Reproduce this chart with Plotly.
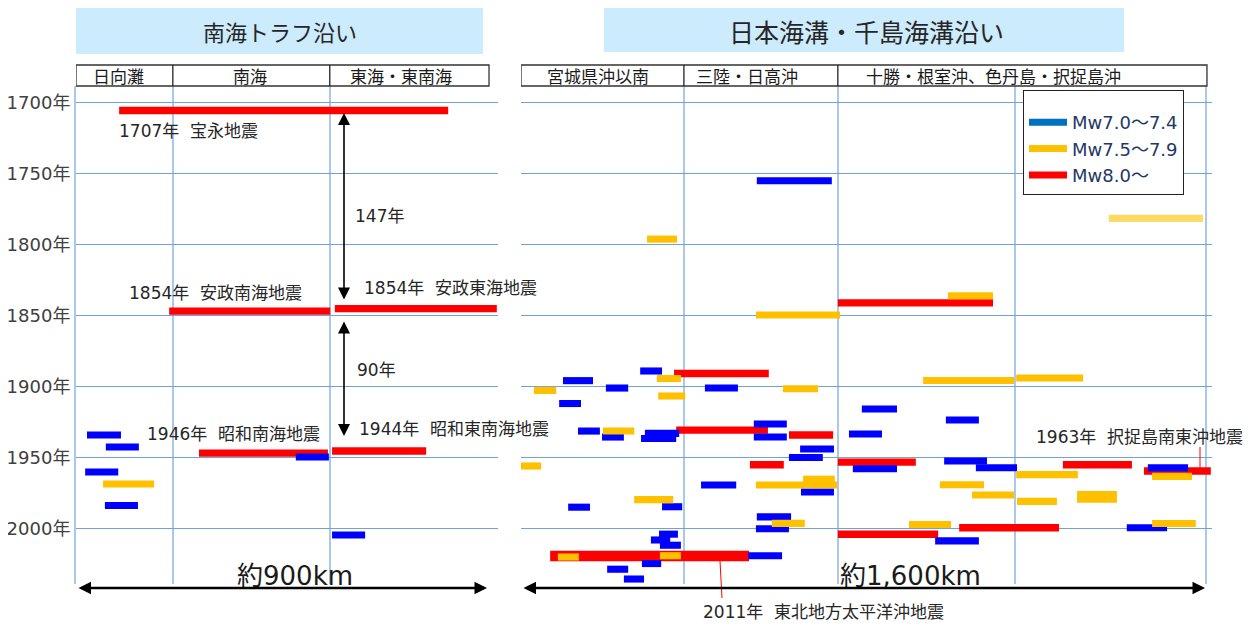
import plotly.graph_objects as go

# page is drawn with an 8px body margin; figure sized to fill the window
OFF = 8
W, H = 1249, 618
FONT = "Noto Sans CJK JP"
LATIN = "DejaVu Sans, Noto Sans CJK JP"

# ---------------- data ----------------
YEAR_TICKS = [1700, 1750, 1800, 1850, 1900, 1950, 2000]
YEAR_LABELS = ["1700年", "1750年", "1800年", "1850年", "1900年", "1950年", "2000年"]

LEFT_REGIONS = ["日向灘", "南海", "東海・東南海"]
LEFT_BOUNDS_KM = [0, 211, 553, 900]
RIGHT_REGIONS = ["宮城県沖以南", "三陸・日高沖", "十勝・根室沖、色丹島・択捉島沖"]
RIGHT_BOUNDS_KM = [0, 380, 739, 1600]
RIGHT_GRID_KM = [380, 739, 1152, 1597]

# Nankai Trough panel (start km, end km, year)
L_RED_START = [94, 203, 564, 268, 558]
L_RED_END = [811, 554, 917, 549, 763]
L_RED_YEAR = [1705.6, 1846.8, 1845.1, 1946.8, 1945.3]

L_BLUE_START = [24, 65, 479, 20, 63, 558]
L_BLUE_END = [98, 137, 551, 92, 135, 630]
L_BLUE_YEAR = [1934.1, 1942.5, 1949.6, 1960.1, 1983.7, 2004.5]

L_ORANGE_START = [59]
L_ORANGE_END = [170]
L_ORANGE_YEAR = [1968.6]

# Japan / Kuril Trench panel
R_BLUE_START = [550, 278, 98, 198, 429, 89, 795, 991, 543, 133, 289, 280, 189, 543, 765, 651, 625, 774,
                987, 1061, 1462, 420, 653, 110, 329, 550, 548, 322, 303, 324, 530, 282, 201, 240, 966, 1413]
R_BLUE_END = [725, 329, 168, 250, 506, 140, 877, 1068, 620, 184, 369, 362, 240, 620, 842, 730, 704, 877,
              1087, 1157, 1556, 502, 730, 161, 376, 630, 625, 366, 348, 373, 609, 327, 250, 287, 1068, 1507]
R_BLUE_YEAR = [1755.0, 1889.0, 1895.8, 1901.0, 1901.0, 1911.9, 1915.8, 1923.5, 1926.3, 1931.3, 1932.9,
               1936.5, 1935.5, 1935.5, 1933.4, 1943.9, 1949.9, 1957.8, 1952.4, 1957.1, 1957.2, 1969.3,
               1974.2, 1984.9, 1984.6, 1991.7, 2000.1, 2003.9, 2008.0, 2011.7, 2019.1, 2024.6, 2028.6,
               2035.5, 2008.6, 1999.4]

R_ORANGE_START = [294, 548, 996, 938, 1155, 317, 30, 611, 320, 191, 0, 548, 658, 264, 977, 1155, 1052,
                  1157, 1297, 1472, 585, 905, 1472, 86, 324]
R_ORANGE_END = [364, 744, 1101, 1150, 1311, 373, 82, 693, 383, 264, 47, 737, 732, 355, 1080, 1299, 1150,
                1250, 1390, 1565, 662, 1003, 1574, 135, 373]
R_ORANGE_YEAR = [1796.1, 1849.6, 1836.0, 1895.7, 1893.9, 1894.3, 1902.7, 1901.5, 1906.6, 1931.3, 1955.9,
                 1969.3, 1965.4, 1979.6, 1969.1, 1962.0, 1976.3, 1980.8, 1977.6, 1963.2, 1996.3, 1997.1,
                 1996.4, 2020.0, 2019.1]

R_PALE_START = [1371]
R_PALE_END = [1591]
R_PALE_YEAR = [1781.5]

R_RED_START = [739, 357, 362, 625, 534, 739, 1264, 1453, 1022, 739, 68]
R_RED_END = [1101, 578, 576, 728, 613, 921, 1425, 1609, 1255, 973, 532]
R_RED_YEAR = [1841.0, 1890.8, 1930.6, 1934.1, 1955.0, 1953.2, 1955.0, 1959.4, 1999.4, 2004.0, 2019.3]

LEGEND_NAMES = ["Mw7.0～7.4", "Mw7.5～7.9", "Mw8.0～"]

# ---------------- styles ----------------
BLUE = "#0000FF"
ORANGE = "#FFC000"
RED = "#FF0000"
PALE = "#FFD966"
LEG_BLUE = "#0070C0"
BAR_T = 5.0          # bar thickness in years
RED_T = 5.2
R_RED_THICK = {10: 7.5}      # 2011 bar drawn thicker
R_ORANGE_THICK = {18: 8.3, 12: 5.4}

# axis ranges and their page-pixel extents
YR = [2039.0, 1688.3]             # page y 584 .. 86
TOP, BOT = 86, 584
XL = [0, 920]                     # page x 76 .. 498
XR = [0, 1612]                    # page x 521 .. 1212

def px(x):
    return (x - OFF) / W
def py(y):
    return (BOT - y) / (BOT - TOP)

fig = go.Figure()

def add_bars(starts, ends, years, color, thick, xa, ya, overrides=None):
    widths = [thick] * len(starts)
    if overrides:
        for i, v in overrides.items():
            widths[i] = v
    fig.add_trace(go.Bar(
        orientation="h", base=starts, x=[e - s for s, e in zip(starts, ends)], y=years,
        width=widths, marker=dict(color=color, line=dict(width=0)),
        xaxis=xa, yaxis=ya, showlegend=False, cliponaxis=False, hoverinfo="skip"))

add_bars(L_RED_START, L_RED_END, L_RED_YEAR, RED, RED_T, "x", "y")
add_bars(L_BLUE_START, L_BLUE_END, L_BLUE_YEAR, BLUE, BAR_T, "x", "y")
add_bars(L_ORANGE_START, L_ORANGE_END, L_ORANGE_YEAR, ORANGE, BAR_T, "x", "y")

add_bars(R_RED_START, R_RED_END, R_RED_YEAR, RED, RED_T, "x2", "y2", R_RED_THICK)
add_bars(R_BLUE_START, R_BLUE_END, R_BLUE_YEAR, BLUE, BAR_T, "x2", "y2")
add_bars(R_PALE_START, R_PALE_END, R_PALE_YEAR, PALE, BAR_T, "x2", "y2")
add_bars(R_ORANGE_START, R_ORANGE_END, R_ORANGE_YEAR, ORANGE, BAR_T, "x2", "y2", R_ORANGE_THICK)

for name, col in zip(LEGEND_NAMES, [LEG_BLUE, ORANGE, RED]):
    fig.add_trace(go.Scatter(x=[None], y=[None], mode="lines", name=name,
                             line=dict(color=col, width=7), xaxis="x2", yaxis="y2"))

VGRID = "#A9C8EC"
HGRID = "#6FA3DB"

fig.update_layout(
    width=W, height=H, margin=dict(l=0, r=0, t=TOP - OFF, b=H - (BOT - OFF)),
    paper_bgcolor="white", plot_bgcolor="white", barmode="overlay",
    font=dict(family=FONT, color="#262626"),
    xaxis=dict(domain=[px(76), px(498.2)], range=XL, showticklabels=False, ticks="",
               tickvals=LEFT_BOUNDS_KM[1:3], showgrid=True, gridcolor=VGRID, gridwidth=2,
               zeroline=False, showline=False, fixedrange=True),
    xaxis2=dict(domain=[px(521), px(1212.1)], range=XR, showticklabels=False, ticks="",
                tickvals=RIGHT_GRID_KM, showgrid=True, gridcolor=VGRID, gridwidth=2,
                zeroline=False, showline=False, anchor="y2", fixedrange=True),
    yaxis=dict(range=YR, tickvals=YEAR_TICKS, ticktext=YEAR_LABELS, showgrid=True,
               gridcolor=HGRID, gridwidth=1, zeroline=False, showline=True, linecolor=VGRID,
               linewidth=2, ticks="", tickfont=dict(size=18, color="#404040", family=LATIN),
               automargin=False, anchor="x", fixedrange=True),
    yaxis2=dict(range=YR, tickvals=YEAR_TICKS, showticklabels=False, showgrid=True,
                gridcolor=HGRID, gridwidth=1, zeroline=False, showline=False, ticks="",
                anchor="x2", matches="y", fixedrange=True),
    legend=dict(x=px(1023), y=py(90), xanchor="left", yanchor="top",
                bordercolor="#222222", borderwidth=1, bgcolor="white",
                font=dict(size=18, color="#1F3864", family=LATIN), itemwidth=38,
                title=dict(text=" ", font=dict(size=10)), tracegroupgap=0),
)

shapes = []
# title boxes
shapes.append(dict(type="rect", xref="paper", yref="paper", x0=px(76), x1=px(483), y0=py(54), y1=py(7),
                   fillcolor="#CCEBFC", line=dict(width=0), layer="below"))
shapes.append(dict(type="rect", xref="paper", yref="paper", x0=px(604), x1=px(1124), y0=py(52), y1=py(8),
                   fillcolor="#CCEBFC", line=dict(width=0), layer="below"))
# region header boxes, drawn on the distance scales
for xr, bounds in (("x", LEFT_BOUNDS_KM), ("x2", RIGHT_BOUNDS_KM)):
    shapes.append(dict(type="rect", xref=xr, yref="paper", x0=bounds[0], x1=bounds[-1],
                       y0=py(86), y1=py(65), line=dict(color="#333333", width=1.3)))
    for b in bounds[1:-1]:
        shapes.append(dict(type="line", xref=xr, yref="paper", x0=b, x1=b, y0=py(86), y1=py(65),
                           line=dict(color="#222222", width=1.3)))
# leader lines
shapes.append(dict(type="line", xref="paper", yref="paper", x0=px(720), x1=px(722), y0=py(561), y1=py(598),
                   line=dict(color=RED, width=1)))
shapes.append(dict(type="line", xref="paper", yref="paper", x0=px(1200), x1=px(1200), y0=py(447), y1=py(469),
                   line=dict(color=RED, width=1)))
fig.update_layout(shapes=shapes)

ann = []
def text(x, y, s, size=17, anchor="left", color="#262626", family=LATIN):
    ann.append(dict(x=px(x), y=py(y), xref="paper", yref="paper", text=s, showarrow=False,
                    xanchor=anchor, yanchor="middle", font=dict(size=size, color=color, family=family)))

text(280, 31, "南海トラフ沿い", 22, "center", "#262626", FONT)
text(866, 31, "日本海溝・千島海溝沿い", 25, "center", "#262626", FONT)
for name, cx in zip(LEFT_REGIONS, [118, 250, 401]):
    text(cx, 76, name, 17, "center", "#1a1a1a", FONT)
for name, cx in zip(RIGHT_REGIONS, [598, 747, 993]):
    text(cx, 76, name, 17, "center", "#1a1a1a", FONT)

text(117, 131, "1707年  宝永地震")
text(127, 293, "1854年  安政南海地震")
text(362, 288, "1854年  安政東海地震")
text(353, 216, "147年")
text(355, 370, "90年")
text(145, 434, "1946年  昭和南海地震")
text(357, 429, "1944年  昭和東南海地震")
text(1034, 437, "1963年  択捉島南東沖地震")
text(701, 612, "2011年  東北地方太平洋沖地震", 17)
text(295, 576, "約900km", 26, "center", "#1a1a1a")
text(910, 576, "約1,600km", 26, "center", "#1a1a1a")

def arrow(x0, y0, x1, y1, width=1.5, size=1.2):
    ann.append(dict(x=px(x1), y=py(y1), xref="paper", yref="paper", ax=x0 - x1, ay=y0 - y1,
                    axref="pixel", ayref="pixel", text="", showarrow=True, arrowhead=2,
                    startarrowhead=2, arrowside="end+start", arrowsize=size, startarrowsize=size,
                    arrowwidth=width, arrowcolor="black", standoff=0, startstandoff=0))

arrow(344, 301, 344, 113, 1.6, 1.5)
arrow(344, 320, 344, 436, 1.6, 1.5)
arrow(77, 588, 487, 588, 2.5, 1.0)
arrow(522, 588, 1205, 588, 2.5, 1.0)

fig.update_layout(annotations=ann)
fig.write_html("out.html")
